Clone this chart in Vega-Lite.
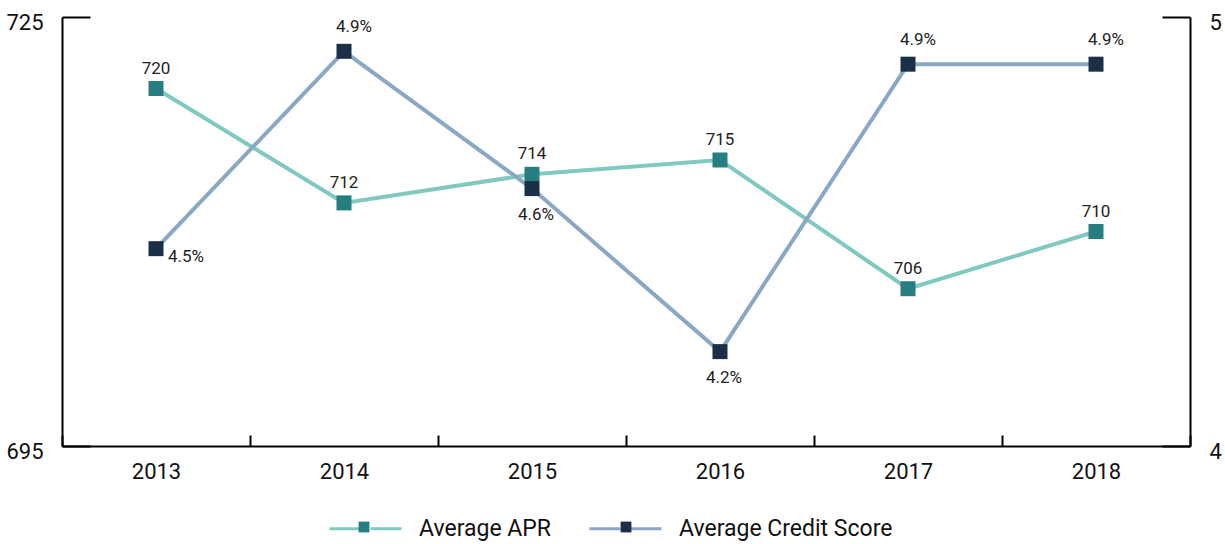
{
  "$schema": "https://vega.github.io/schema/vega-lite/v6.json",
  "width": 1128,
  "height": 429,
  "autosize": "none",
  "padding": {"left": 62, "top": 17, "right": 35, "bottom": 98},
  "config": {
    "font": "Roboto, sans-serif",
    "view": {"stroke": null},
    "axis": {"labelColor": "#111", "domainColor": "#000", "tickColor": "#000", "domainWidth": 2, "tickWidth": 2, "grid": false, "title": null}
  },
  "datasets": {
    "apr": [
      {"year": "2013", "series": "Average APR", "value": 720, "label": "720"},
      {"year": "2014", "series": "Average APR", "value": 712, "label": "712"},
      {"year": "2015", "series": "Average APR", "value": 714, "label": "714"},
      {"year": "2016", "series": "Average APR", "value": 715, "label": "715"},
      {"year": "2017", "series": "Average APR", "value": 706, "label": "706"},
      {"year": "2018", "series": "Average APR", "value": 710, "label": "710"}
    ],
    "credit": [
      {"year": "2013", "series": "Average Credit Score", "value": 4.46, "label": "4.5%", "pos": "right"},
      {"year": "2014", "series": "Average Credit Score", "value": 4.92, "label": "4.9%", "pos": "above"},
      {"year": "2015", "series": "Average Credit Score", "value": 4.6, "label": "4.6%", "pos": "below"},
      {"year": "2016", "series": "Average Credit Score", "value": 4.22, "label": "4.2%", "pos": "below"},
      {"year": "2017", "series": "Average Credit Score", "value": 4.89, "label": "4.9%", "pos": "above"},
      {"year": "2018", "series": "Average Credit Score", "value": 4.89, "label": "4.9%", "pos": "above"}
    ]
  },
  "encoding": {
    "x": {
      "field": "year", "type": "ordinal",
      "scale": {"paddingInner": 0, "paddingOuter": 0},
      "axis": {"labelAngle": 0, "labelFontSize": 22, "labelPadding": 26, "tickSize": -11, "tickBand": "extent"}
    }
  },
  "layer": [
    {
      "data": {"name": "apr"},
      "encoding": {
        "y": {
          "field": "value", "type": "quantitative",
          "scale": {"domain": [695, 725], "nice": false, "zero": false},
          "axis": {"orient": "left", "values": [695, 725], "tickSize": -28, "labelFontSize": 22, "labelPadding": 47, "labelOffset": 5}
        }
      },
      "layer": [
        {
          "mark": {"type": "line", "strokeWidth": 4},
          "encoding": {
            "stroke": {
              "field": "series", "type": "nominal",
              "scale": {"range": ["#80c9c1", "#8aa8c5"]},
              "legend": {"title": null, "orient": "none", "legendX": 266, "legendY": 474, "direction": "horizontal", "labelFontSize": 23, "labelColor": "#111", "labelLimit": 400, "symbolType": "M-1,0H-0.14M0.14,0H1", "symbolSize": 5184, "symbolStrokeWidth": 3, "labelOffset": 16, "columnPadding": 32}
            }
          }
        },
        {
          "mark": {"type": "point", "shape": "square", "filled": true, "size": 225, "opacity": 1},
          "encoding": {
            "fill": {
              "field": "series", "type": "nominal",
              "scale": {"domain": ["Average APR", "Average Credit Score"], "range": ["#267e83", "#1b2f48"]},
              "legend": {"title": null, "orient": "none", "legendX": 266, "legendY": 474, "direction": "horizontal", "labelFontSize": 23, "labelExpr": "''", "symbolType": "M-0.15,-0.15H0.15V0.15H-0.15Z", "symbolSize": 5184, "symbolStrokeWidth": 0, "symbolOpacity": 1, "labelOffset": 16, "columnPadding": 174}
            }
          }
        },
        {
          "mark": {"type": "text", "fontSize": 17, "dy": -20, "color": "#222"},
          "encoding": {"text": {"field": "label"}}
        }
      ]
    },
    {
      "data": {"name": "credit"},
      "encoding": {
        "y": {
          "field": "value", "type": "quantitative",
          "scale": {"domain": [4, 5], "nice": false, "zero": false},
          "axis": {"orient": "right", "values": [4, 5], "tickSize": -28, "labelFontSize": 22, "labelPadding": 47, "labelOffset": 5, "format": "d"}
        }
      },
      "layer": [
        {
          "mark": {"type": "line", "strokeWidth": 4},
          "encoding": {"stroke": {"field": "series", "type": "nominal"}}
        },
        {
          "mark": {"type": "point", "shape": "square", "filled": true, "size": 225, "opacity": 1},
          "encoding": {"fill": {"field": "series", "type": "nominal"}}
        },
        {
          "transform": [{"filter": "datum.pos === 'above'"}],
          "mark": {"type": "text", "fontSize": 17, "dy": -24, "dx": 10, "color": "#222"},
          "encoding": {"text": {"field": "label"}}
        },
        {
          "transform": [{"filter": "datum.pos === 'below'"}],
          "mark": {"type": "text", "fontSize": 17, "dy": 26, "dx": 4, "color": "#222"},
          "encoding": {"text": {"field": "label"}}
        },
        {
          "transform": [{"filter": "datum.pos === 'right'"}],
          "mark": {"type": "text", "fontSize": 17, "dy": 8, "dx": 12, "align": "left", "color": "#222"},
          "encoding": {"text": {"field": "label"}}
        }
      ]
    }
  ],
  "resolve": {"scale": {"y": "independent"}}
}
